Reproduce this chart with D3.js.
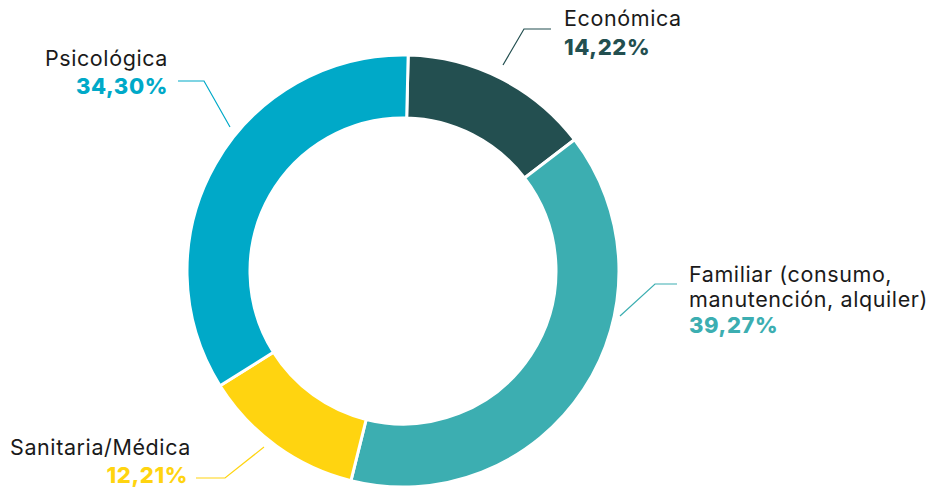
<!DOCTYPE html>
<html><head><meta charset="utf-8">
<script src="https://cdn.jsdelivr.net/npm/d3@7"></script>
<style>
html,body{margin:0;padding:0;background:#fff;}
svg{display:block;}
text{font-family:"Inter","Noto Sans",sans-serif;}
</style></head>
<body>
<svg id="chart" width="928" height="488"></svg>
<script>
const categories = ["Económica", "Familiar (consumo, manutención, alquiler)", "Sanitaria/Médica", "Psicológica"];
const labelLines = [["Económica"], ["Familiar (consumo,", "manutención, alquiler)"], ["Sanitaria/Médica"], ["Psicológica"]];
const values = [14.22, 39.27, 12.21, 34.30];
const colors = ["#234f50", "#3caeb1", "#ffd410", "#00a9c8"];

// layout (positions kept separate from data)
const layout = {
  cx: 403, cy: 271, outer: 216, inner: 153, startOffset: 0.024,
  labels: [
    {x: 564, y: 26, anchor: "start", pctX: 564, pctY: 55, line: [[551,29],[524,29],[503,65]]},
    {x: 689, y: 282, anchor: "start", pctX: 689, pctY: 333, line: [[677,284],[655,284],[620,316]]},
    {x: 10, y: 455, anchor: "start", pctX: 188, pctY: 483, pctAnchor: "end", line: [[196,478],[225,478],[264,447]]},
    {x: 168, y: 66, anchor: "end", pctX: 168, pctY: 94, line: [[178,81],[204,81],[230,127]]}
  ]
};

const svg = d3.select("#chart");
const g = svg.append("g").attr("transform", `translate(${layout.cx},${layout.cy})`);

const pie = d3.pie().sort(null).value(d => d)
  .startAngle(layout.startOffset).endAngle(2 * Math.PI + layout.startOffset);
const arc = d3.arc().innerRadius(layout.inner).outerRadius(layout.outer);

g.selectAll("path.slice").data(pie(values)).join("path")
  .attr("class", "slice")
  .attr("d", arc)
  .attr("fill", (d, i) => colors[i])
  .attr("stroke", "#fff")
  .attr("stroke-width", 3);

const fmt = v => d3.format(".2f")(v).replace(".", ",") + "%";

values.forEach((v, i) => {
  const L = layout.labels[i];
  svg.append("path")
    .attr("d", d3.line()(L.line))
    .attr("fill", "none")
    .attr("stroke", colors[i])
    .attr("stroke-width", 1.2);
  const t = svg.append("text")
    .attr("x", L.x).attr("y", L.y)
    .attr("text-anchor", L.anchor)
    .attr("font-size", 21.5)
    .attr("letter-spacing", 0.6)
    .attr("fill", "#1a1a1a");
  labelLines[i].forEach((ln, j) => {
    t.append("tspan").attr("x", L.x).attr("dy", j === 0 ? 0 : 25).text(ln);
  });
  svg.append("text")
    .attr("x", L.pctX).attr("y", L.pctY)
    .attr("text-anchor", L.pctAnchor || L.anchor)
    .attr("font-size", 22)
    .attr("font-weight", 800)
    .attr("letter-spacing", 0.6)
    .attr("fill", colors[i])
    .text(fmt(v));
});
</script>
</body></html>
